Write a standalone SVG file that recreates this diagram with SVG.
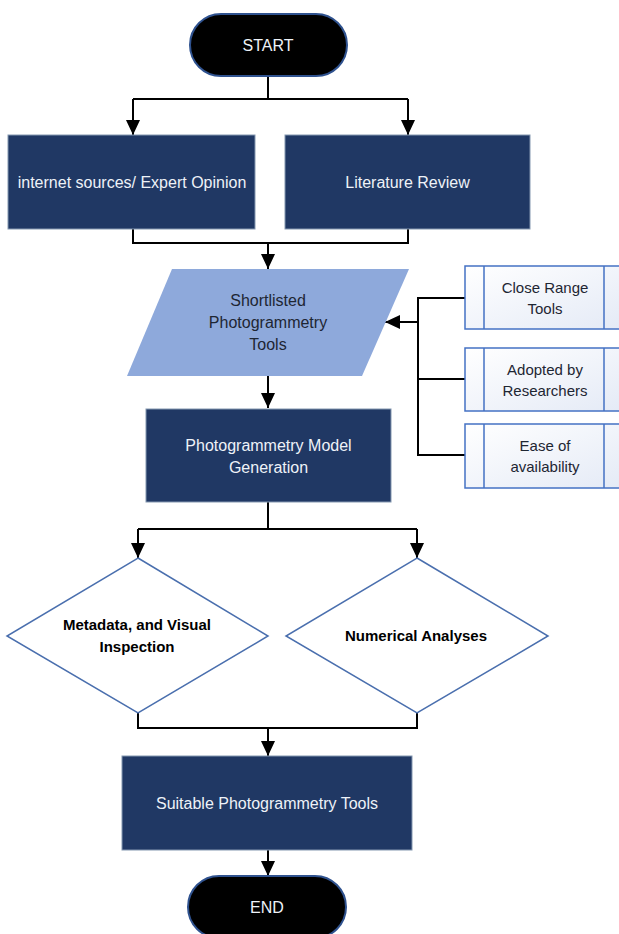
<svg xmlns="http://www.w3.org/2000/svg" width="619" height="934" viewBox="0 0 619 934">
<defs>
<marker id="ah" markerUnits="userSpaceOnUse" markerWidth="16" markerHeight="14" viewBox="0 0 16 14" refX="15" refY="7" orient="auto">
<path d="M0,0 L15,7 L0,14 z" fill="#000"/>
</marker>
<linearGradient id="sg" x1="0" y1="0" x2="1" y2="1">
<stop offset="0" stop-color="#FFFFFF"/>
<stop offset="1" stop-color="#E4EAF6"/>
</linearGradient>
<style>
.term{fill:#000;stroke:#2F528F;stroke-width:2}
.box{fill:#203864;stroke:#8497B0;stroke-width:1}
.para{fill:#8EA9DB;stroke:none}
.side{fill:url(#sg);stroke:#4472C4;stroke-width:1.5}
.dia{fill:#FFF;stroke:#4A6FAE;stroke-width:1.5}
.lt{font-family:"Liberation Sans",Arial,sans-serif;font-size:16px;fill:#EEF2F8;text-anchor:middle}
.dk{font-family:"Liberation Sans",Arial,sans-serif;font-size:16px;fill:#1E2633;text-anchor:middle}
.sd{font-family:"Liberation Sans",Arial,sans-serif;font-size:15px;fill:#1E2633;text-anchor:middle}
.bd{font-family:"Liberation Sans",Arial,sans-serif;font-size:15px;font-weight:bold;fill:#000;text-anchor:middle}
.ln{fill:none;stroke:#000;stroke-width:2}
.ar{fill:none;stroke:#000;stroke-width:2;marker-end:url(#ah)}
</style>
</defs>
<g id="connectors">
<path class="ln" d="M268,77 V99 M133,99 H408"/>
<path class="ar" d="M133,99 V135"/>
<path class="ar" d="M408,99 V135"/>
<path class="ln" d="M133,229 V243 H408 V229"/>
<path class="ar" d="M268,243 V269"/>
<path class="ar" d="M268,376 V408"/>
<path class="ln" d="M465,298 H418 V455 H465 M465,379 H418"/>
<path class="ar" d="M418,322 H385"/>
<path class="ln" d="M268,502 V529 M138,529 H417"/>
<path class="ar" d="M138,529 V558"/>
<path class="ar" d="M417,529 V558"/>
<path class="ln" d="M138,713 V728 H417 V713"/>
<path class="ar" d="M268,728 V756"/>
<path class="ar" d="M268,850 V876"/>
</g>
<g id="start">
<rect class="term" x="190" y="14" width="157" height="62" rx="31"/>
<text class="lt" x="268" y="51">START</text>
</g>
<g id="internet">
<rect class="box" x="8" y="135" width="247" height="94"/>
<text class="lt" x="132" y="188">internet sources/ Expert Opinion</text>
</g>
<g id="literature">
<rect class="box" x="285" y="135" width="245" height="94"/>
<text class="lt" x="407.5" y="188">Literature Review</text>
</g>
<g id="shortlisted">
<polygon class="para" points="172,269 409,269 362,376 127,376"/>
<text class="dk" x="268" y="306">Shortlisted</text>
<text class="dk" x="268" y="328">Photogrammetry</text>
<text class="dk" x="268" y="350">Tools</text>
</g>
<g id="close-range">
<rect class="side" x="465" y="266" width="158" height="63"/>
<path class="side" d="M484,266 V329 M604,266 V329"/>
<text class="sd" x="545" y="293">Close Range</text>
<text class="sd" x="545" y="314">Tools</text>
</g>
<g id="adopted">
<rect class="side" x="465" y="348" width="158" height="63"/>
<path class="side" d="M484,348 V411 M604,348 V411"/>
<text class="sd" x="545" y="375">Adopted by</text>
<text class="sd" x="545" y="396">Researchers</text>
</g>
<g id="ease">
<rect class="side" x="465" y="424" width="158" height="64"/>
<path class="side" d="M484,424 V488 M604,424 V488"/>
<text class="sd" x="545" y="451">Ease of</text>
<text class="sd" x="545" y="472">availability</text>
</g>
<g id="model">
<rect class="box" x="146" y="409" width="245" height="93"/>
<text class="lt" x="268.5" y="451">Photogrammetry Model</text>
<text class="lt" x="268.5" y="473">Generation</text>
</g>
<g id="metadata">
<polygon class="dia" points="138,558 268,636 138,713 7,636"/>
<text class="bd" x="137" y="630">Metadata, and Visual</text>
<text class="bd" x="137" y="652">Inspection</text>
</g>
<g id="numerical">
<polygon class="dia" points="417,558 548,636 417,713 286,636"/>
<text class="bd" x="416" y="641">Numerical Analyses</text>
</g>
<g id="suitable">
<rect class="box" x="122" y="756" width="290" height="94"/>
<text class="lt" x="267" y="809">Suitable Photogrammetry Tools</text>
</g>
<g id="end">
<rect class="term" x="188" y="876" width="158" height="62" rx="31"/>
<text class="lt" x="267" y="913">END</text>
</g>
</svg>
